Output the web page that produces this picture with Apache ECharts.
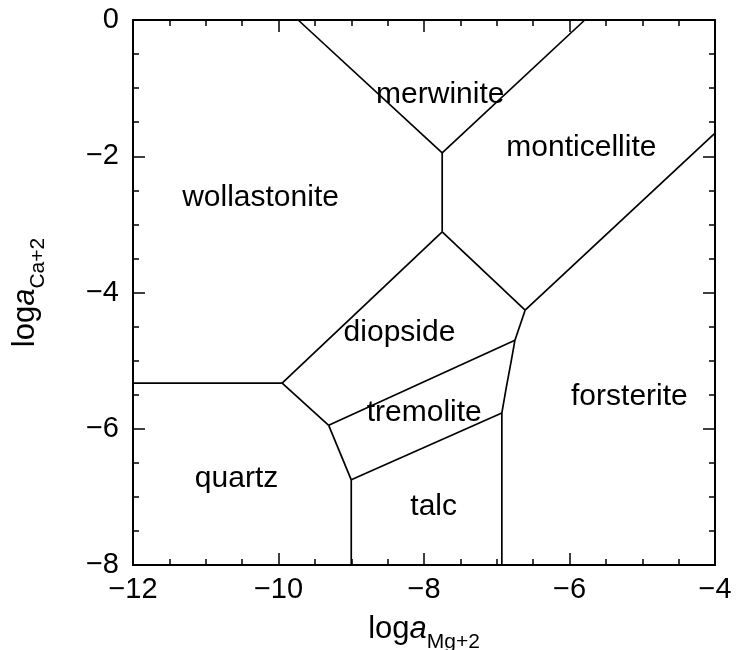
<!DOCTYPE html>
<html>
<head>
<meta charset="utf-8">
<script src="https://cdn.jsdelivr.net/npm/echarts@6/dist/echarts.min.js"></script>
<style>html,body{margin:0;padding:0;background:#fff;}#c{width:736px;height:650px;}</style>
</head>
<body>
<div id="c"></div>
<script>
// Axis ranges / ticks
var xRange = [-12, -4];
var yRange = [-8, 0];
var tickStep = 2;

// Boundary lines (log aMg+2, log aCa+2)
var wollastoniteQuartz = [[-12, -5.33], [-9.95, -5.33]];
var wollastoniteDiopside = [[-9.95, -5.33], [-7.75, -3.11]];
var wollastoniteMonticellite = [[-7.75, -3.11], [-7.75, -1.95]];
var wollastoniteMerwinite = [[-7.75, -1.95], [-9.73, 0]];
var merwiniteMonticellite = [[-7.75, -1.95], [-5.79, 0]];
var monticelliteDiopside = [[-7.75, -3.11], [-6.61, -4.26]];
var monticelliteForsterite = [[-6.61, -4.26], [-4, -1.66]];
var diopsideForsterite = [[-6.61, -4.26], [-6.75, -4.70]];
var diopsideTremolite = [[-6.75, -4.70], [-9.31, -5.95]];
var diopsideQuartz = [[-9.95, -5.33], [-9.31, -5.95]];
var tremoliteQuartz = [[-9.31, -5.95], [-9.0, -6.75]];
var tremoliteTalc = [[-9.0, -6.75], [-6.93, -5.77]];
var tremoliteForsterite = [[-6.93, -5.77], [-6.87, -5.40], [-6.80, -5.00], [-6.75, -4.70]];
var quartzTalc = [[-9.0, -6.75], [-9.0, -8]];
var talcForsterite = [[-6.93, -5.77], [-6.93, -8]];

// Field labels
var fieldNames = ['merwinite', 'monticellite', 'wollastonite', 'diopside', 'tremolite', 'forsterite', 'quartz', 'talc'];
var fieldX = [-7.77, -5.83, -10.24, -8.33, -7.99, -5.17, -10.57, -7.86];
var fieldY = [-1.10, -1.88, -2.61, -4.60, -5.77, -5.54, -6.74, -7.15];

var boundaries = [wollastoniteQuartz, wollastoniteDiopside, wollastoniteMonticellite, wollastoniteMerwinite,
  merwiniteMonticellite, monticelliteDiopside, monticelliteForsterite, diopsideForsterite, diopsideTremolite,
  diopsideQuartz, tremoliteQuartz, tremoliteTalc, tremoliteForsterite, quartzTalc, talcForsterite];

var FONT = '"Liberation Sans", Arial, Helvetica, sans-serif';
var fmt = function (v) { return String(v).replace('-', '\u2212'); };

function axisCommon(extra) {
  var a = {
    type: 'value',
    interval: tickStep,
    axisLine: { show: true, onZero: false, lineStyle: { color: '#000', width: 2 } },
    axisTick: { show: true, inside: true, length: 12, lineStyle: { color: '#000', width: 1.5 } },
    minorTick: { show: true, splitNumber: 4, length: 6, lineStyle: { color: '#000', width: 1.5 } },
    splitLine: { show: false },
    minorSplitLine: { show: false },
    axisLabel: { color: '#000', fontSize: 29, fontFamily: FONT, formatter: fmt }
  };
  for (var k in extra) a[k] = extra[k];
  return a;
}

var nameRich = {
  n: { fontSize: 31, fontFamily: FONT, color: '#000' },
  i: { fontSize: 31, fontFamily: FONT, color: '#000', fontStyle: 'italic' },
  s: { fontSize: 21, fontFamily: FONT, color: '#000', padding: [26, 0, 0, 0] }
};

var series = boundaries.map(function (b) {
  return {
    type: 'line', data: b, symbol: 'none', silent: true,
    lineStyle: { color: '#000', width: 1.7 }, animation: false
  };
});
series.push({
  type: 'scatter', symbolSize: 1, silent: true, animation: false,
  itemStyle: { opacity: 0 },
  data: fieldNames.map(function (n, i) { return { value: [fieldX[i], fieldY[i]], name: n }; }),
  label: { show: true, position: [0, 0], align: 'center', verticalAlign: 'middle', formatter: '{b}',
    color: '#000', opacity: 1, textBorderWidth: 0, fontSize: 30, fontFamily: FONT }
});

var chart = echarts.init(document.getElementById('c'), null, { renderer: 'canvas' });
chart.setOption({
  backgroundColor: '#fff',
  animation: false,
  grid: { left: 133, top: 20, right: 21, bottom: 85, containLabel: false, outerBoundsMode: 'none' },
  xAxis: [
    axisCommon({ min: xRange[0], max: xRange[1], position: 'bottom',
      name: '{n|log}{i|a}{s|Mg+2}', nameLocation: 'middle', nameGap: 41,
      nameTextStyle: { rich: nameRich },
      axisLabel: { color: '#000', fontSize: 29, fontFamily: FONT, formatter: fmt, margin: 10 } }),
    axisCommon({ min: xRange[0], max: xRange[1], position: 'top', axisLabel: { show: false } })
  ],
  yAxis: [
    axisCommon({ min: yRange[0], max: yRange[1], position: 'left',
      name: '{n|log}{i|a}{s|Ca+2}', nameLocation: 'middle', nameGap: 84,
      nameTextStyle: { rich: nameRich },
      axisLabel: { color: '#000', fontSize: 29, fontFamily: FONT, formatter: fmt, margin: 14 } }),
    axisCommon({ min: yRange[0], max: yRange[1], position: 'right', axisLabel: { show: false } })
  ],
  series: series
});
</script>
</body>
</html>
